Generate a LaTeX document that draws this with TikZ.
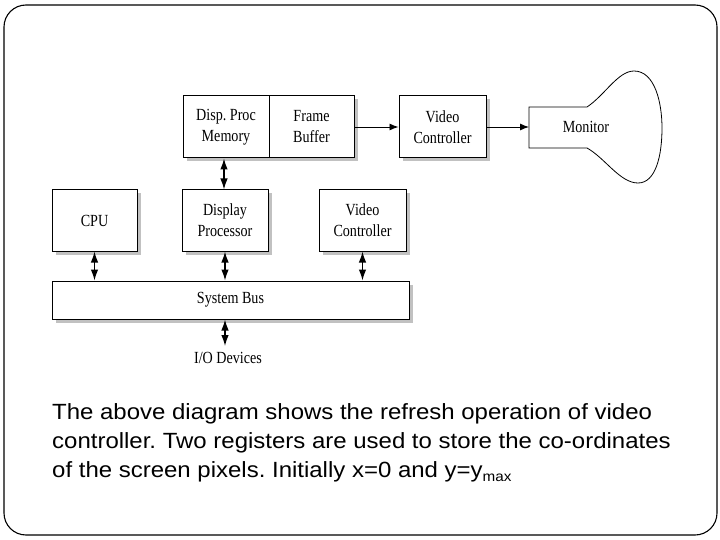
\documentclass[tikz,border=0pt]{standalone}
\usepackage{fontspec}
\setmainfont{Liberation Serif}
\newfontfamily\capfont[FakeStretch=1.09]{Liberation Sans}
\newfontfamily\diafont[FakeStretch=0.83]{Liberation Serif}
\usetikzlibrary{shadows,arrows.meta}
\frenchspacing
\begin{document}
\begin{tikzpicture}[x=1pt,y=-1pt,
  box/.style={draw=black, line width=1pt, fill=white, inner sep=0pt, align=center,
    font=\diafont\fontsize{17}{21}\selectfont,
    drop shadow={shadow xshift=3.5pt, shadow yshift=-3.5pt, fill=black!30, opacity=0.8}},
  plain/.style={inner sep=0pt, align=center, font=\diafont\fontsize{17}{21}\selectfont},
  conn/.style={line width=0.9pt, -{Latex[length=9pt,width=7pt]}},
  dconn/.style={line width=1.3pt, {Latex[length=11pt,width=7.5pt]}-{Latex[length=11pt,width=7.5pt]}},
  capline/.style={anchor=base west, inner sep=0pt, font=\capfont\fontsize{22}{29}\selectfont}]
\useasboundingbox (0,0) rectangle (720,540);
\draw[line width=1.1pt, rounded corners=22pt] (4,5) rectangle (717,535);

% top row
\node[box, minimum width=86pt, minimum height=62pt] (dpm) at (226,127) {Disp. Proc\\Memory};
\node[box, minimum width=85pt, minimum height=62pt] (fb) at (311.5,127) {Frame\\Buffer};
\node[box, minimum width=87pt, minimum height=62pt] (vct) at (442.5,127) {Video\\Controller};

% monitor
\draw[line width=0.8pt, fill=white] (529,107) -- (587,107)
  .. controls (605,95) and (618,71) .. (634,71)
  .. controls (655,71) and (662,103) .. (662,128)
  .. controls (662,155) and (656,183) .. (638,183)
  .. controls (620,183) and (605,158) .. (587,148)
  -- (529,148) -- cycle;
\coordinate (mon) at (529,127);
\node[plain] (montext) at (586,127) {Monitor};

% middle row
\node[box, minimum width=85pt, minimum height=61pt] (cpu) at (94.5,220.5) {CPU};
\node[box, minimum width=86pt, minimum height=61pt] (dp) at (225,220.5) {Display\\Processor};
\node[box, minimum width=87pt, minimum height=61pt] (vcb) at (362.5,220.5) {Video\\Controller};

% bus
\node[box, minimum width=357pt, minimum height=38pt] (bus) at (230.5,300) {System Bus};
\node[plain] (io) at (228,358) {I/O Devices};
\coordinate (iotop) at (225,346);

% connectors
\draw[conn] (fb.east) -- (vct.west);
\draw[conn] (vct.east) -- (mon);
\draw[dconn] (dpm.south -| dp.north) ++(-1,0) coordinate (a1) (a1) -- (a1 |- dp.north);
\draw[dconn] (cpu.south) -- (cpu.south |- bus.north);
\draw[dconn] (dp.south) -- (dp.south |- bus.north);
\draw[dconn] (vcb.south) -- (vcb.south |- bus.north);
\draw[dconn] (iotop |- bus.south) -- (iotop);

% caption
\node[capline] (cap1) at (52,419) {The above diagram shows the refresh operation of video};
\node[capline] (cap2) at (52,448) {controller. Two registers are used to store the co-ordinates};
\node[capline] (cap3) at (52,477) {of the screen pixels. Initially x=0 and y=y\raisebox{-0.35ex}{\fontsize{14}{14}\selectfont max}};
\end{tikzpicture}
\end{document}
